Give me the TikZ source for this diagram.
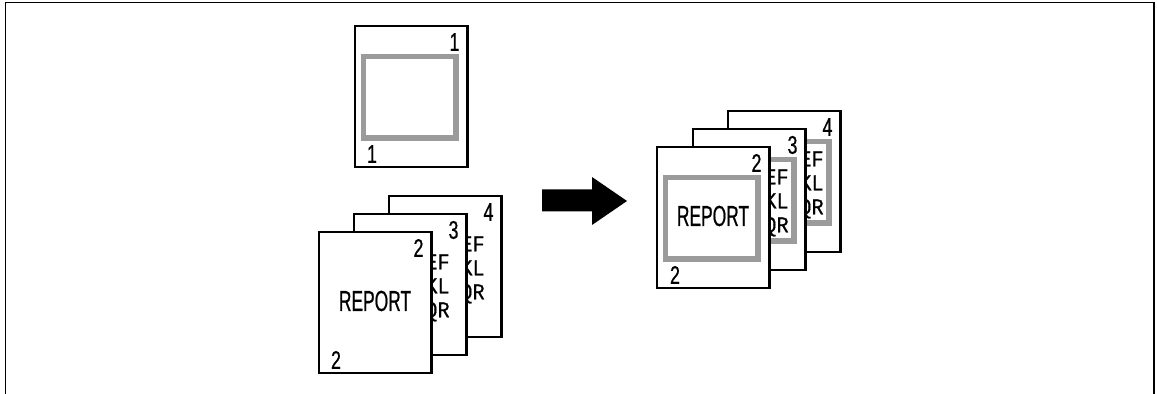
\documentclass[tikz,border=0pt]{standalone}
\usepackage{fontspec}
\usepackage{tikz}
\usetikzlibrary{calc}
\newfontfamily\reportfont{Liberation Sans}[FakeStretch=0.6, FakeBold=0.6]
\newfontfamily\numfont{Liberation Sans}[FakeStretch=0.7, FakeBold=0.6]
\newfontfamily\linefont{Liberation Mono}[FakeStretch=0.9, FakeBold=0.5]
\definecolor{copyFrameGray}{HTML}{9B9B9B}
\tikzset{
    pagebox/.style={draw=black, line width=1.3pt, fill=white, minimum width=2.25cm, minimum height=2.82cm, inner sep=0pt, outer sep=0pt, anchor=north west},
    graybox/.style={draw=copyFrameGray, line width=3.1pt},
    pagenum/.style={inner sep=0pt, font=\numfont\fontsize{14.5}{14.5}\selectfont},
    reporttext/.style={inner sep=0pt, font=\reportfont\fontsize{16.5}{16.5}\selectfont},
    linestext/.style={inner sep=0pt, anchor=east, align=right, font=\linefont\fontsize{12.8}{13.66}\selectfont}
}

\begin{document}
\begin{tikzpicture}[x=0.02cm, y=-0.02cm, line join=miter]
            \useasboundingbox (0,0) rectangle (1157,394);
            \draw[line width=0.85pt] (5.5,394) -- (5.5,2.5) -- (1154,2.5) -- (1154,394);

            % original page
            \node[pagebox] (p1) at (355,26) {};
            \draw[graybox] ($(p1.north west)+(8.5,30.5)$) rectangle ($(p1.north west)+(101,112)$);
            \node[pagenum] (p1top) at ($(p1.north west)+(99.5,16)$) {1};
            \node[pagenum] (p1bot) at ($(p1.north west)+(17,128)$) {1};

            % left stack
            \node[pagebox] (l4) at (389,196) {};
            \node[pagenum] (l4top) at ($(l4.north west)+(99.5,16)$) {4};
            \node[linestext] (l4text) at ($(l4.north west)+(96,74)$) {EF\\KL\\QR};
            \node[pagebox] (l3) at (354,214) {};
            \node[pagenum] (l3top) at ($(l3.north west)+(99.5,16)$) {3};
            \node[linestext] (l3text) at ($(l3.north west)+(96,74)$) {EF\\KL\\QR};
            \node[pagebox] (l2) at (319,232) {};
            \node[pagenum] (l2top) at ($(l2.north west)+(99.5,16)$) {2};
            \node[pagenum] (l2bot) at ($(l2.north west)+(17,128)$) {2};
            \node[reporttext] (l2title) at ($(l2.north west)+(56,69)$) {REPORT};

            % block arrow
            \fill (542,189.5) -- (592,189.5) -- (592,177) -- (627,201) -- (592,225) -- (592,211.5) -- (542,211.5) -- cycle;

            % right stack
            \node[pagebox] (r4) at (728,111) {};
            \draw[graybox] ($(r4.north west)+(8.5,30.5)$) rectangle ($(r4.north west)+(101,112)$);
            \node[pagenum] (r4top) at ($(r4.north west)+(99.5,16)$) {4};
            \node[linestext] (r4text) at ($(r4.north west)+(96,74)$) {EF\\KL\\QR};
            \node[pagebox] (r3) at (693,129) {};
            \draw[graybox] ($(r3.north west)+(8.5,30.5)$) rectangle ($(r3.north west)+(101,112)$);
            \node[pagenum] (r3top) at ($(r3.north west)+(99.5,16)$) {3};
            \node[linestext] (r3text) at ($(r3.north west)+(96,74)$) {EF\\KL\\QR};
            \node[pagebox] (r2) at (657,147) {};
            \draw[graybox] ($(r2.north west)+(8.5,30.5)$) rectangle ($(r2.north west)+(101,112)$);
            \node[pagenum] (r2top) at ($(r2.north west)+(99.5,16)$) {2};
            \node[pagenum] (r2bot) at ($(r2.north west)+(18,128)$) {2};
            \node[reporttext] (r2title) at ($(r2.north west)+(56,69)$) {REPORT};
\end{tikzpicture}
\end{document}
